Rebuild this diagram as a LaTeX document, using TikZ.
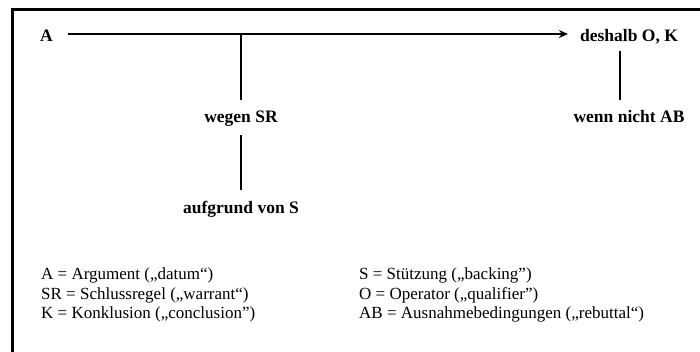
\documentclass[tikz,border=0pt]{standalone}
\usepackage{fontspec}
\setmainfont{Liberation Serif}
\usetikzlibrary{arrows.meta}
\begin{document}
\begin{tikzpicture}[x=1pt,y=-1pt,
  lbl/.style={font=\fontsize{17.5}{20}\selectfont\bfseries, inner sep=0pt, anchor=base},
  leg/.style={font=\fontsize{17}{20}\selectfont, inner sep=0pt, anchor=base west},
  conn/.style={line width=1.3pt},
  arr/.style={line width=2pt, -{Stealth[length=9pt,width=8pt]}}]
\useasboundingbox (0,0) rectangle (700,352);
\draw[line width=3pt] (12,353) -- (12,10) -- (701,10);
% labels
\node[lbl] (A) at (46.5,41.5) {A};
\node[lbl] (K) at (629,41.7) {deshalb O, K};
\node[lbl] (W) at (241,123) {wegen SR};
\node[lbl] (S) at (241,214) {aufgrund von S};
\node[lbl] (R) at (629,122.7) {wenn nicht AB};
% connectors
\draw[arr, shorten <=15pt, shorten >=12pt] (A.east |- 0,34) -- (K.west |- 0,34);
\coordinate (j1) at (241,34);
\draw[conn, shorten >=11pt] (j1) -- (W.north);
\draw[conn, shorten <=8pt, shorten >=11pt] (W.south) -- (S.north);
\draw[conn, shorten <=6pt, shorten >=10.7pt] (K.south -| 620,0) -- (R.north -| 620,0);
% legend
\node[leg] (l1) at (41,279) {A = Argument („datum“)};
\node[leg] (l2) at (41,299) {SR = Schlussregel („warrant“)};
\node[leg] (l3) at (41,318) {K = Konklusion („conclusion”)};
\node[leg] (l4) at (359,279) {S = Stützung („backing”)};
\node[leg] (l5) at (359,299) {O = Operator („qualifier”)};
\node[leg] (l6) at (359,318) {AB = Ausnahmebedingungen („rebuttal“)};
\end{tikzpicture}
\end{document}
